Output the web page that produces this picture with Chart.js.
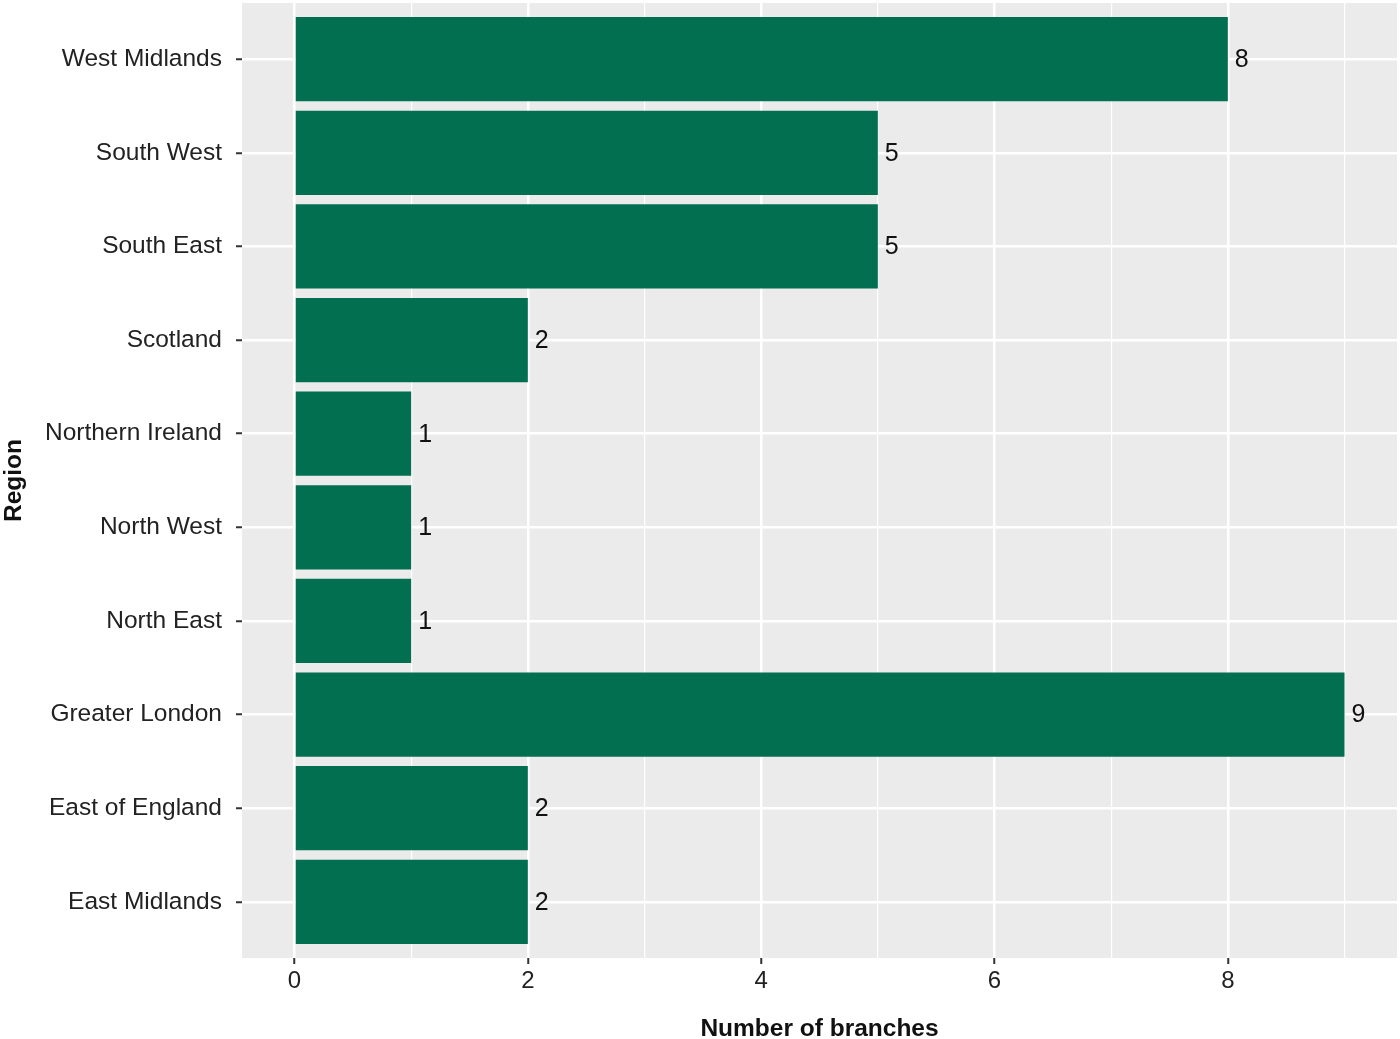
<!DOCTYPE html>
<html>
<head>
<meta charset="utf-8">
<script src="https://cdn.jsdelivr.net/npm/chart.js@4"></script>
<style>
  body { margin: 0; background: #fff; }
  #wrap { width: 1400px; height: 1039px; }
</style>
</head>
<body>
<div id="wrap"><canvas id="graficoRegioes"></canvas></div>
<script>
// regions from top to bottom, as in the picture
const regioes = ["West Midlands", "South West", "South East", "Scotland", "Northern Ireland",
    "North West", "North East", "Greater London", "East of England", "East Midlands"];
const filiais = [8, 5, 5, 2, 1, 1, 1, 9, 2, 2];
const ticksX = [0, 1, 2, 3, 4, 5, 6, 7, 8, 9];

const fonte = '"Liberation Sans", Arial, sans-serif';

const fundoPainel = {
    id: 'fundoPainel',
    beforeDraw(chart) {
        const { ctx, chartArea: a } = chart;
        ctx.save();
        ctx.fillStyle = '#EBEBEB';
        ctx.fillRect(a.left, a.top, a.right - a.left, a.bottom - a.top);
        ctx.restore();
    }
};

const rotulos = {
    id: 'rotulos',
    afterDatasetsDraw(chart) {
        const { ctx, scales } = chart;
        ctx.save();
        ctx.font = '25px ' + fonte;
        ctx.fillStyle = '#111';
        ctx.textBaseline = 'middle';
        filiais.forEach((v, i) => {
            ctx.fillText(String(v), scales.x.getPixelForValue(v) + 7, scales.y.getPixelForValue(i) + 1);
        });
        ctx.restore();
    }
};

const graficoRegioes = new Chart(document.getElementById('graficoRegioes'), {
    type: 'bar',
    data: {
        datasets: [{
            data: filiais.map((v, i) => ({ x: v, y: i })),
            backgroundColor: '#016F50',
            borderWidth: 0,
            categoryPercentage: 1,
            barPercentage: 0.9
        }]
    },
    options: {
        indexAxis: 'y',
        responsive: true,
        maintainAspectRatio: false,
        animation: false,
        layout: { padding: { top: 3, right: 3, left: 0, bottom: 0 } },
        plugins: { legend: { display: false }, tooltip: { enabled: false } },
        scales: {
            x: {
                type: 'linear',
                min: -0.45,
                max: 9.45,
                afterBuildTicks: s => { s.ticks = ticksX.map(v => ({ value: v })); },
                afterFit: s => { s.height = 81; s.paddingLeft = 0; s.paddingRight = 0; },
                border: { display: false },
                grid: {
                    color: '#FFFFFF',
                    lineWidth: c => (c.tick && c.tick.value % 2 === 0) ? 2.5 : 1.2,
                    tickColor: c => (c.tick && c.tick.value % 2 === 0) ? '#333' : 'rgba(0,0,0,0)',
                    tickLength: 6,
                    tickWidth: 2
                },
                ticks: {
                    autoSkip: false,
                    maxRotation: 0,
                    padding: 3,
                    color: '#222',
                    font: { size: 24, family: fonte },
                    callback: v => v % 2 === 0 ? v : ''
                },
                title: {
                    display: true,
                    text: 'Number of branches',
                    color: '#111',
                    padding: { top: 13, bottom: -5 },
                    font: { size: 24.5, weight: 'bold', family: fonte }
                }
            },
            y: {
                type: 'linear',
                reverse: true,
                offset: false,
                min: -0.6,
                max: 9.6,
                afterBuildTicks: s => { s.ticks = regioes.map((r, i) => ({ value: i })); },
                afterFit: s => { s.width = 242; s.paddingTop = 0; s.paddingBottom = 0; },
                border: { display: false },
                grid: {
                    offset: false,
                    color: '#FFFFFF',
                    lineWidth: 2.5,
                    tickColor: '#333',
                    tickLength: 6,
                    tickWidth: 2
                },
                ticks: {
                    autoSkip: false,
                    padding: 14,
                    color: '#222',
                    font: { size: 24.5, family: fonte },
                    callback: v => regioes[v]
                },
                title: {
                    display: true,
                    text: 'Region',
                    color: '#111',
                    padding: { top: 0, bottom: 0 },
                    font: { size: 24.5, weight: 'bold', family: fonte }
                }
            }
        }
    },
    plugins: [fundoPainel, rotulos]
});
</script>
</body>
</html>
